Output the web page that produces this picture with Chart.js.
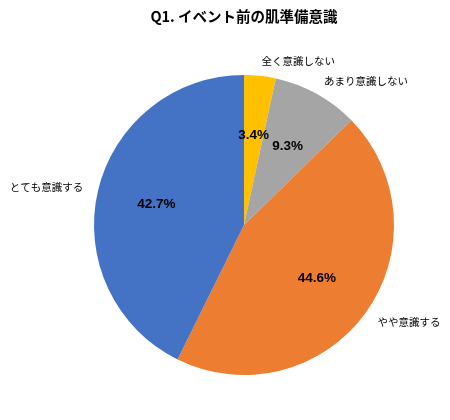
<!DOCTYPE html>
<html>
<head>
<meta charset="utf-8">
<script src="https://cdn.jsdelivr.net/npm/chart.js@4"></script>
<style>
  body { margin: 0; background: #fff; }
  #wrap { width: 450px; height: 420px; }
</style>
</head>
<body>
<div id="wrap"><canvas id="c" width="450" height="420"></canvas></div>
<script>
// data (clockwise from 12 o'clock)
const titleText = 'Q1. イベント前の肌準備意識';
const categories = ['全く意識しない', 'あまり意識しない', 'やや意識する', 'とても意識する'];
const shares = [3.4, 9.3, 44.6, 42.7];
const sliceColors = ['#FFC000', '#A5A5A5', '#ED7D31', '#4472C4'];

const jpFont = '"Noto Sans CJK JP", "Noto Sans", sans-serif';

// title, percent labels inside, category labels outside
const labelPlugin = {
  id: 'pieLabels',
  afterDatasetsDraw(chart) {
    const ctx = chart.ctx;
    const meta = chart.getDatasetMeta(0);
    ctx.save();
    ctx.fillStyle = '#000';
    ctx.textAlign = 'center';
    ctx.textBaseline = 'middle';
    ctx.font = 'bold 14.5px ' + jpFont;
    ctx.fillText(titleText, chart.width / 2 + 19, 16);

    meta.data.forEach((arc, i) => {
      const p = arc.getProps(['x', 'y', 'startAngle', 'endAngle', 'outerRadius'], true);
      const mid = (p.startAngle + p.endAngle) / 2;
      const cx = Math.cos(mid), cy = Math.sin(mid);

      ctx.font = 'bold 13.5px "Liberation Sans", Arial, sans-serif';
      ctx.textAlign = 'center';
      ctx.fillText(shares[i].toFixed(1) + '%', p.x + cx * p.outerRadius * 0.6, p.y + cy * p.outerRadius * 0.6);

      const r = p.outerRadius * 1.1;
      ctx.font = '10.5px ' + jpFont;
      ctx.textAlign = cx >= 0 ? 'left' : 'right';
      ctx.fillText(categories[i], p.x + cx * r, p.y + cy * r);
    });
    ctx.restore();
  }
};

new Chart(document.getElementById('c'), {
  type: 'pie',
  data: {
    labels: categories,
    datasets: [{
      data: shares,
      backgroundColor: sliceColors,
      borderWidth: 0
    }]
  },
  options: {
    responsive: false,
    animation: false,
    layout: { padding: { left: 94, right: 56, top: 75, bottom: 45 } },
    plugins: {
      legend: { display: false },
      tooltip: { enabled: false },
      title: { display: false }
    }
  },
  plugins: [labelPlugin]
});
</script>
</body>
</html>
